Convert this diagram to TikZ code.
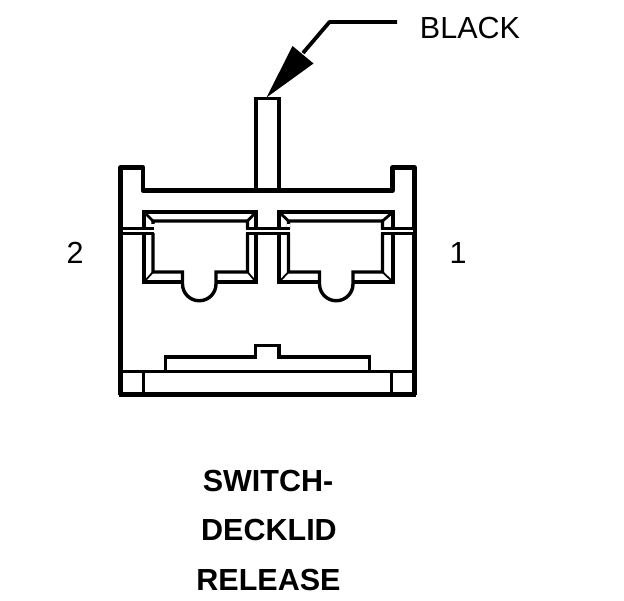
\documentclass[tikz,border=0pt]{standalone}
\usepackage{fontspec}
\setmainfont{Liberation Sans}
\tikzset{
  x=1pt,y=-1pt,
  heavy/.style={line width=4.4pt,line join=round},
  med/.style={line width=3.4pt,line join=miter},
  thin line/.style={line width=1.8pt},
  pinlabel/.style={font=\fontsize{30.5}{32}\selectfont,inner sep=0pt,anchor=center},
  title/.style={font=\fontsize{30.5}{32}\selectfont\bfseries,inner sep=0pt,anchor=center}
}
\newcommand{\cavity}[6]{% outer l, outer r, inner l, inner r, notch l, notch r
  \draw[med] (#1,212) rectangle (#2,282);
  \fill[white] (#3,221) rectangle (#4,272);
  \fill[white] (#5-1,270) rectangle (#6+1,285);
  \draw[med] (#3,221) -- (#4,221) -- (#4,272) -- (#6,272) -- (#6,284)
     arc[start angle=0,end angle=180,radius={(#6-#5)/2}] -- (#5,272) -- (#3,272) -- cycle;
  \draw[line width=2.8pt] (#1,212) -- (#3,221) (#2,212) -- (#4,221);
  \draw[thin line] (#1,282) -- (#3,272) (#2,282) -- (#4,272);
  \fill[white] (#3-1.7,223.5) rectangle (#3+1.7,229);
}
\begin{document}
\begin{tikzpicture}
\useasboundingbox (0,0) rectangle (624,600);
\fill[white] (0,0) rectangle (624,600);
% housing
\draw[heavy] (120.5,395) -- (120.5,167.5) -- (143,167.5) -- (143,190.5) -- (392.5,190.5) -- (392.5,167.5) -- (414.5,167.5) -- (414.5,395);
\draw[line width=5pt] (119,394.5) -- (416,394.5);
% stem
\draw[line width=3.8pt] (256,190) -- (256,98.5) -- (279,98.5) -- (279,190);
% cavities
\cavity{144}{256}{153}{247.5}{182.5}{216}
\cavity{279}{393}{288.5}{382.5}{319.5}{353}
% latch lines
\fill[white] (122.5,229) rectangle (412.5,232.5);
\draw[line width=3pt] (122,228) -- (154,228) (122,233.5) -- (154,233.5);
\draw[line width=3pt] (246,228) -- (290,228) (246,233.5) -- (290,233.5);
\draw[line width=3pt] (381,228) -- (413,228) (381,233.5) -- (413,233.5);
% base
\draw[line width=2.8pt] (120,371.5) -- (415,371.5);
\draw[med] (143.5,371) -- (143.5,394) (391.5,371) -- (391.5,394);
\draw[med] (165.5,371) -- (165.5,357) -- (255.5,357) -- (255.5,345.5) -- (279,345.5) -- (279,357) -- (369.5,357) -- (369.5,371);
% leader
\coordinate (leaderstart) at (397,22);
\coordinate (leaderbend) at (329.5,22);
\coordinate (leaderend) at (303,53);
\draw[line width=3.8pt,line join=round] (leaderstart) -- (leaderbend) -- (leaderend);
\fill (266.5,97.5) -- (292.5,46) -- (313.5,63.5) -- cycle;
% labels
\node[pinlabel] (black) at (470,28) {BLACK};
\node[pinlabel] (pintwo) at (75,253) {2};
\node[pinlabel] (pinone) at (458,253) {1};
\node[title] (t1) at (268,481) {SWITCH-};
\node[title] (t2) at (269,530) {DECKLID};
\node[title] (t3) at (268.5,580) {RELEASE};
\end{tikzpicture}
\end{document}
